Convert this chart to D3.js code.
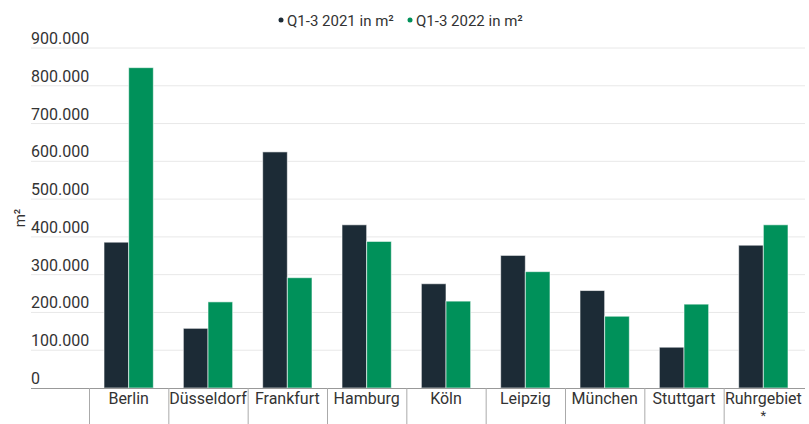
<!DOCTYPE html>
<html>
<head>
<meta charset="utf-8">
<script src="https://cdn.jsdelivr.net/npm/d3@7"></script>
<style>
  body { margin: 0; background: #fff; }
  text { font-family: Roboto, sans-serif; fill: #333; }
</style>
</head>
<body>
<div id="chart"></div>
<script>
/* Flächenumsatz Q1-3, 2021 vs 2022 */

const cities = ["Berlin", "Düsseldorf", "Frankfurt", "Hamburg", "Köln", "Leipzig", "München", "Stuttgart", "Ruhrgebiet"];
const series = ["Q1-3 2021 in m²", "Q1-3 2022 in m²"];
const values2021 = [386000, 158000, 625000, 432000, 276000, 351000, 258000, 108000, 378000];
const values2022 = [848000, 228000, 292000, 388000, 230000, 308000, 190000, 222000, 432000];
const yTicks = [0, 100000, 200000, 300000, 400000, 500000, 600000, 700000, 800000, 900000];

const colors = ["#1c2b36", "#00915a"];

const width = 809,
      height = 424,
      margin = ({top: 48, right: 4, bottom: 36, left: 31});

const data = cities.map((c, i) => ({city: c, vals: [values2021[i], values2022[i]]}));

let svg = d3.select("#chart")
            .append("svg")
            .attr("width", width)
            .attr("height", height);

let y = d3.scaleLinear()
          .domain([0, 900000])
          .range([height - margin.bottom, margin.top]);

let x = d3.scaleBand()
          .domain(cities)
          .range([89, 803])
          .padding(0);

let xSub = d3.scaleBand()
             .domain([0, 1])
             .range([15, x.bandwidth() - 15])
             .padding(0);

const fmt = d => d3.format(",")(d).replace(/,/g, ".");

/* gridlines + labels above them */
let grid = svg.append("g");
grid.selectAll("line")
    .data(yTicks.filter(d => d > 0))
    .join("line")
    .attr("x1", margin.left)
    .attr("x2", width - margin.right)
    .attr("y1", d => y(d))
    .attr("y2", d => y(d))
    .attr("stroke", "#e8e8e8")
    .attr("stroke-width", 1);

grid.selectAll("text")
    .data(yTicks)
    .join("text")
    .attr("x", margin.left)
    .attr("y", d => y(d) - 4)
    .style("font-size", "16px")
    .text(fmt);

/* y title */
svg.append("text")
   .attr("transform", `translate(25, ${y(450000)}) rotate(-90)`)
   .attr("text-anchor", "middle")
   .style("font-size", "15px")
   .text("m²");

/* bars */
let group = svg.selectAll(".grp")
    .data(data)
    .join("g")
    .attr("class", "grp")
    .attr("transform", d => `translate(${x(d.city)},0)`);

group.selectAll("rect")
     .data(d => d.vals)
     .join("rect")
     .attr("x", (d, i) => xSub(i))
     .attr("width", xSub.bandwidth())
     .attr("y", d => y(d))
     .attr("height", d => y(0) - y(d))
     .attr("fill", (d, i) => colors[i])
     .attr("stroke", "#fff")
     .attr("stroke-opacity", 0.6)
     .attr("stroke-width", 1);

/* category axis, table style */
let xAxis = svg.append("g");
xAxis.append("line")
     .attr("x1", margin.left)
     .attr("x2", width - margin.right)
     .attr("y1", y(0) + 0.5)
     .attr("y2", y(0) + 0.5)
     .attr("stroke", "#999");

xAxis.selectAll(".sep")
     .data(cities)
     .join("line")
     .attr("class", "sep")
     .attr("x1", d => x(d) + 0.5)
     .attr("x2", d => x(d) + 0.5)
     .attr("y1", y(0))
     .attr("y2", height)
     .attr("stroke", "#aaa");

xAxis.selectAll(".lbl")
     .data(cities)
     .join("text")
     .attr("class", "lbl")
     .attr("x", d => x(d) + x.bandwidth() / 2)
     .attr("y", y(0) + 16)
     .attr("text-anchor", "middle")
     .style("font-size", "16px")
     .text(d => d);

xAxis.append("text")
     .attr("x", x("Ruhrgebiet") + x.bandwidth() / 2)
     .attr("y", y(0) + 32)
     .attr("text-anchor", "middle")
     .style("font-size", "13px")
     .text("*");

/* legend */
let legend = svg.append("g")
                .attr("transform", "translate(0, 20)");
let lx = [281, 410];
series.forEach((s, i) => {
    legend.append("circle")
          .attr("cx", lx[i])
          .attr("cy", 0)
          .attr("r", 2.5)
          .attr("fill", colors[i]);
    legend.append("text")
          .attr("x", lx[i] + 6)
          .attr("y", 5.5)
          .style("font-size", "15px")
          .text(s);
});
</script>
</body>
</html>
